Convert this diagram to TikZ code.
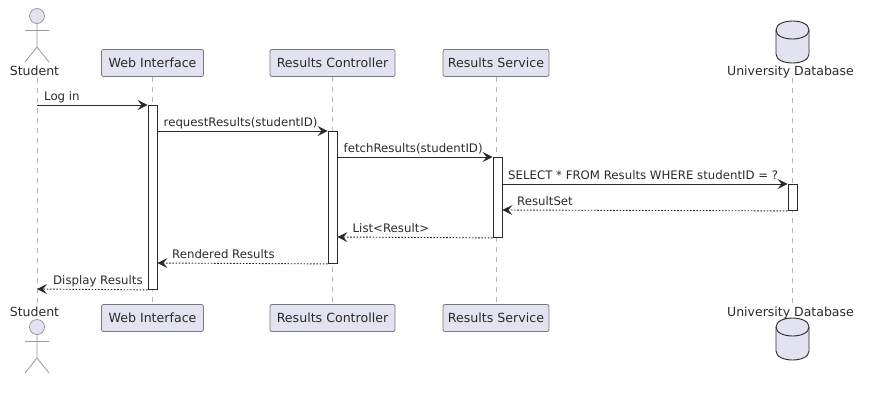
\documentclass[tikz,border=0pt]{standalone}
\usepackage{fontspec}
\setmainfont{DejaVu Sans}
\usetikzlibrary{arrows.meta,shapes.geometric,calc}
\definecolor{pfill}{HTML}{E2E2F0}
\definecolor{pline}{HTML}{77777F}
\definecolor{lifeg}{HTML}{B5B5B5}
\definecolor{inkc}{HTML}{2A2A2A}
\definecolor{stickc}{HTML}{9A9A9A}
\tikzset{
  partbox/.style={draw=pline,fill=pfill,rounded corners=2pt,line width=.8pt,minimum height=27pt,inner sep=0pt,font=\fontsize{12.6}{14}\selectfont,text=inkc,anchor=center},
  lifeline/.style={draw=lifeg,line width=.9pt,dash pattern=on 5pt off 5pt},
  actbar/.style={draw=inkc,fill=white,line width=.9pt,minimum width=9pt,inner sep=0pt,anchor=north},
  msgline/.style={draw=inkc,line width=.9pt,-{Stealth[length=10pt,width=10pt,inset=4pt]}},
  rmsgline/.style={msgline,dash pattern=on 1.6pt off 1.6pt},
  msglab/.style={font=\fontsize{11.75}{14}\selectfont,text=inkc,anchor=base west,inner sep=0pt},
  partname/.style={font=\fontsize{12.5}{14}\selectfont,text=inkc,inner sep=0pt,anchor=base},
  stickline/.style={draw=stickc,line width=.8pt},
  dbbody/.style={draw=inkc,fill=pfill,line width=.9pt}
}
\newcommand{\stickman}[2]{%
  \draw[stickline,fill=pfill] (#1,#2) circle (7.5);
  \draw[stickline] (#1,#2+7.5) -- (#1,#2+31) (#1-12,#2+14.5) -- (#1+12,#2+14.5)
    (#1-12,#2+46) -- (#1,#2+31) -- (#1+12,#2+46);}
\newcommand{\dbshape}[2]{%
  \draw[dbbody] (#1-16.5,#2+9) .. controls (#1-16.5,#2-3) and (#1+16.5,#2-3) .. (#1+16.5,#2+9)
    -- (#1+16.5,#2+33) .. controls (#1+16.5,#2+45) and (#1-16.5,#2+45) .. (#1-16.5,#2+33) -- cycle;
  \draw[dbbody,fill=none] (#1-16.5,#2+9) .. controls (#1-16.5,#2+21) and (#1+16.5,#2+21) .. (#1+16.5,#2+9);}
\begin{document}
\begin{tikzpicture}[x=1pt,y=-1pt]
\useasboundingbox (0,0) rectangle (873,408);
% tops
\coordinate (stuT) at (37,78);
\coordinate (stuB) at (37,304);
\node[partbox,minimum width=102pt] (webT) at (152.5,63) {Web Interface};
\node[partbox,minimum width=102pt] (webB) at (152.5,318) {Web Interface};
\node[partbox,minimum width=125pt] (ctlT) at (332.5,63) {Results Controller};
\node[partbox,minimum width=125pt] (ctlB) at (332.5,318) {Results Controller};
\node[partbox,minimum width=106pt] (svcT) at (496,63) {Results Service};
\node[partbox,minimum width=106pt] (svcB) at (496,318) {Results Service};
\coordinate (dbT) at (792,78);
\coordinate (dbB) at (792,304);
% lifelines
\draw[lifeline] (stuT) -- (stuB);
\draw[lifeline] (webT) -- (webB);
\draw[lifeline] (ctlT) -- (ctlB);
\draw[lifeline] (svcT) -- (svcB);
\draw[lifeline] (dbT) -- (dbB);
% activations
\node[actbar,minimum height=184pt] (webA) at (152.5,105) {};
\node[actbar,minimum height=132pt] (ctlA) at (332.5,131) {};
\node[actbar,minimum height=80pt] (svcA) at (497.5,157) {};
\node[actbar,minimum height=26pt] (dbA) at (792.5,184) {};
% messages
\coordinate (m1) at (0,105);\coordinate (m2) at (0,131);\coordinate (m3) at (0,157);\coordinate (m4) at (0,184);
\coordinate (m5) at (0,210);\coordinate (m6) at (0,237);\coordinate (m7) at (0,263);\coordinate (m8) at (0,289);
\draw[msgline] (stuT |- m1) -- (webA.north west);
\draw[msgline] (webA.east |- m2) -- (ctlA.north west);
\draw[msgline] (ctlA.east |- m3) -- (svcA.north west);
\draw[msgline] (svcA.east |- m4) -- (dbA.north west);
\draw[rmsgline] (dbA.south west) -- (svcA.east |- m5);
\draw[rmsgline] (svcA.south west) -- (ctlA.east |- m6);
\draw[rmsgline] (ctlA.south west) -- (webA.east |- m7);
\draw[rmsgline] (webA.south west) -- (stuT |- m8);
% labels
\node[msglab] (l1) at (44,100) {Log in};
\node[msglab] (l2) at (163.5,126) {requestResults(studentID)};
\node[msglab] (l3) at (343.5,152) {fetchResults(studentID)};
\node[msglab] (l4) at (508,179) {SELECT * FROM Results WHERE studentID = ?};
\node[msglab] (l5) at (517,205) {ResultSet};
\node[msglab] (l6) at (352.5,232) {List<Result>};
\node[msglab] (l7) at (172,258) {Rendered Results};
\node[msglab] (l8) at (53,284) {Display Results};
% actors
\stickman{37}{16}
\stickman{37}{327}
\node[partname] (stuN1) at (34.5,75) {Student};
\node[partname] (stuN2) at (34.5,316) {Student};
\dbshape{792.5}{21}
\dbshape{792.5}{318}
\node[partname] (dbN1) at (790.5,75) {University Database};
\node[partname] (dbN2) at (790.5,316) {University Database};
\end{tikzpicture}
\end{document}
